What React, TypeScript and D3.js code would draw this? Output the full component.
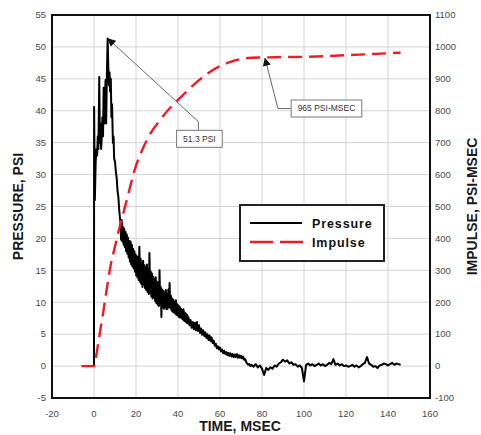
import * as d3 from "d3";
import { useEffect, useRef } from "react";

// time axis (ms) and the two value axes
const timeTicks = [-20, 0, 20, 40, 60, 80, 100, 120, 140, 160];
const pressureTicks = [-5, 0, 5, 10, 15, 20, 25, 30, 35, 40, 45, 50, 55];
const impulseTicks = [-100, 0, 100, 200, 300, 400, 500, 600, 700, 800, 900, 1000, 1100];

// pressure trace, first spikes read point by point [ms, psi]
const pressureEarly: [number, number][] = [
  [0, 0], [0.05, 40.6], [0.4, 26], [0.8, 32], [1.2, 34], [1.5, 33], [1.8, 36], [2.1, 34],
  [2.5, 45.3], [2.8, 35], [3.1, 38], [3.4, 34], [3.7, 36], [4.0, 39], [4.3, 36], [4.6, 43.6],
  [4.9, 38], [5.2, 42], [5.5, 44.8], [5.8, 38], [6.1, 45], [6.5, 51.3], [6.8, 47], [7.1, 44],
  [7.4, 46], [7.7, 43], [8.0, 45], [8.3, 39], [8.6, 41], [9.0, 35], [9.3, 36], [9.6, 32.5],
  [10.0, 32], [10.4, 30.5], [10.8, 29.5], [11.2, 27.5], [11.6, 26.5], [12.0, 24.5], [12.3, 23.4],
];

// noisy decay, sampled every 0.3 ms from 12.6 ms
const decayAStart = 12.6;
const decayAStep = 0.3;
const decayA = [
  22.5, 19.8, 22.9, 19.5, 21.8, 19.0, 21.5, 18.6, 21.0, 18.0, 20.6, 17.6, 20.1, 17.0, 19.6, 16.4,
  19.5, 15.9, 19.0, 15.6, 18.4, 15.3, 18.0, 14.8, 17.5, 14.2, 17.2, 13.9, 17.0, 13.5, 18.7, 13.2,
  16.8, 12.9, 16.2, 12.4, 16.5, 12.8, 15.8, 12.2, 15.5, 11.9, 15.9, 11.6, 15.2, 11.3, 17.7, 11.5,
  14.8, 10.9, 14.5, 10.6, 14.0, 10.8, 13.6, 10.2, 13.9, 9.9, 13.2, 9.6, 13.0, 9.4, 15.0, 9.8,
  12.4, 7.7, 12.0, 9.3, 11.8, 9.0, 11.5, 9.2, 11.9, 8.9, 11.2, 9.0, 12.0, 9.3, 13.0, 9.1,
  11.0, 8.7, 10.6, 8.5, 10.4, 8.4, 10.0, 8.2, 10.3, 8.0, 9.7, 7.9, 9.5, 7.7, 9.3, 7.6,
  9.0, 7.5, 8.8, 7.3, 8.9, 7.1, 8.4, 7.0, 8.2, 6.8, 8.0, 6.7,
];

// tail, every 0.5 ms from 45 ms
const decayBStart = 45;
const decayBStep = 0.5;
const decayB = [
  7.6, 6.4, 7.2, 6.0, 6.9, 5.8, 6.8, 5.6, 6.9, 5.5, 6.4, 5.2, 5.9, 4.9, 5.6, 4.7,
  5.3, 4.4, 5.0, 4.1, 4.8, 3.9, 4.5, 3.6, 4.0, 3.2, 3.5, 2.8, 3.1, 2.6, 2.9, 2.3,
  2.6, 2.0, 2.4, 1.9, 2.2, 1.7, 2.1, 1.6, 2.0, 1.5, 1.9, 1.4, 1.8, 1.4, 1.9, 1.3,
  1.7, 1.3, 1.6, 1.2, 1.5, 1.0, 1.1, 0.6, 0.4, 0.2, 0.3, 0.0,
];

// baseline, every 1 ms from 75 ms
const decayCStart = 75;
const decayCStep = 1;
const decayC = [
  0.2, -0.1, 0.3, -0.2, 0.1, -0.4, -1.4, -0.3, -0.6, -0.2, -0.4, 0.1, -0.1, 0.4, 0.6, 1.0,
  0.7, 0.9, 0.4, 0.6, 0.2, 0.3, -0.1, 0.1, -0.3, -2.4, 0.2, 0.4, 0.1, 0.3, 0.0, 0.2,
  0.4, 0.1, 0.3, 0.0, 0.2, 0.5, 0.3, 1.1, 0.2, 0.4, 0.1, 0.3, 0.0, 0.1, -0.1, 0.0,
  0.2, -0.1, 0.1, -0.2, 0.0, 0.3, 0.5, 1.4, 0.4, 0.2, -0.1, 0.0, -0.3, 0.1, 0.2, 0.4,
  0.3, 0.1, 0.3, 0.5, 0.2, 0.4, 0.3, 0.2,
];

// impulse curve
const impulseTime = [-6, 0, 1, 2, 3, 4, 5, 6, 8, 10, 12, 14, 16, 18, 20, 22.5, 25, 27.5, 30, 35, 40, 45, 50, 55, 60, 65, 70, 75, 80, 90, 100, 110, 120, 130, 140, 146];
const impulseValue = [0, 0, 30, 72, 113, 152, 195, 238, 318, 375, 430, 480, 530, 582, 628, 670, 706, 735, 758, 800, 834, 866, 896, 921, 940, 953, 962, 966, 967, 968, 969, 971, 974, 977, 980, 982];

const peakNote = { label: "51.3 PSI", t: 6.6, p: 51.3, elbowT: 49.7, elbowP: 38.3, boxT: 50.2, boxP: 35.6 };
const impulseNote = { label: "965 PSI-MSEC", t: 81.4, v: 965, elbowT: 87.6, boxT: 110.7, boxV: 807 };

const font = "'Liberation Sans', Arial, sans-serif";

export default function App() {
  const svgRef = useRef<SVGSVGElement>(null);
  const width = 481;
  const height = 435;
  const margin = { top: 15, right: 51, bottom: 37, left: 52 };

  useEffect(() => {
    const svg = d3.select(svgRef.current);
    svg.selectAll("*").remove();

    const x = d3.scaleLinear().domain([-20, 160]).range([margin.left, width - margin.right]);
    const yP = d3.scaleLinear().domain([-5, 55]).range([height - margin.bottom, margin.top]);
    const yI = d3.scaleLinear().domain([-100, 1100]).range([height - margin.bottom, margin.top]);
    const [x0, x1] = x.range();
    const [yb, yt] = yP.range();

    const defs = svg.append("defs");
    defs.append("marker")
      .attr("id", "arrow")
      .attr("viewBox", "0 0 10 10")
      .attr("refX", 9.5)
      .attr("refY", 5)
      .attr("markerWidth", 10)
      .attr("markerHeight", 8)
      .attr("markerUnits", "userSpaceOnUse")
      .attr("orient", "auto-start-reverse")
      .append("path")
      .attr("d", "M0,0 L10,5 L0,10 Z")
      .attr("fill", "#111");

    // grid
    const grid = svg.append("g").attr("stroke", "#d4d4d4").attr("stroke-width", 1);
    grid.selectAll("line.v").data(timeTicks.slice(1, -1)).enter().append("line")
      .attr("x1", (d) => x(d)).attr("x2", (d) => x(d)).attr("y1", yt).attr("y2", yb);
    grid.selectAll("line.h").data(pressureTicks.slice(1, -1)).enter().append("line")
      .attr("y1", (d) => yP(d)).attr("y2", (d) => yP(d)).attr("x1", x0).attr("x2", x1);

    // pressure trace
    const pressure: [number, number][] = [
      ...pressureEarly,
      ...decayA.map((v, i) => [decayAStart + i * decayAStep, v] as [number, number]),
      ...decayB.map((v, i) => [decayBStart + i * decayBStep, v] as [number, number]),
      ...decayC.map((v, i) => [decayCStart + i * decayCStep, v] as [number, number]),
    ];
    const pLine = d3.line<[number, number]>().x((d) => x(d[0])).y((d) => yP(d[1]));
    svg.append("path")
      .attr("d", pLine(pressure))
      .attr("fill", "none")
      .attr("stroke", "#000")
      .attr("stroke-width", 2)
      .attr("stroke-linejoin", "round");

    // impulse curve
    const impulse = impulseTime.map((t, i) => [t, impulseValue[i]] as [number, number]);
    const iLine = d3.line<[number, number]>().x((d) => x(d[0])).y((d) => yI(d[1])).curve(d3.curveMonotoneX);
    svg.append("path")
      .attr("d", iLine(impulse))
      .attr("fill", "none")
      .attr("stroke", "#f01c24")
      .attr("stroke-width", 2.4)
      .attr("stroke-dasharray", "14,7");

    // frame
    svg.append("rect")
      .attr("x", x0).attr("y", yt).attr("width", x1 - x0).attr("height", yb - yt)
      .attr("fill", "none").attr("stroke", "#111").attr("stroke-width", 2);

    // tick labels
    const tickStyle = (s: d3.Selection<SVGTextElement, number, SVGGElement, unknown>) =>
      s.attr("font-family", font).attr("font-size", 9.5).attr("fill", "#4a4a4a");
    const gl = svg.append("g");
    gl.selectAll("text").data(pressureTicks).enter().append("text")
      .attr("x", x0 - 6).attr("y", (d) => yP(d)).attr("dy", "0.35em")
      .attr("text-anchor", "end").text((d) => d).call(tickStyle);
    const gr = svg.append("g");
    gr.selectAll("text").data(impulseTicks).enter().append("text")
      .attr("x", x1 + 5).attr("y", (d) => yI(d)).attr("dy", "0.35em")
      .attr("text-anchor", "start").text((d) => d).call(tickStyle);
    const gb = svg.append("g");
    gb.selectAll("text").data(timeTicks).enter().append("text")
      .attr("x", (d) => x(d)).attr("y", yb + 19)
      .attr("text-anchor", "middle").text((d) => d).call(tickStyle);

    // axis titles
    const title = (t: string) =>
      svg.append("text").attr("font-family", font).attr("font-size", 14)
        .attr("font-weight", "bold").attr("fill", "#1a1a1a").attr("text-anchor", "middle").text(t);
    title("TIME, MSEC").attr("x", 240).attr("y", 431);
    title("PRESSURE, PSI").attr("transform", `translate(18,${(yt + yb) / 2}) rotate(-90)`).attr("dy", "0.36em");
    title("IMPULSE, PSI-MSEC").attr("transform", `translate(472,${(yt + yb) / 2}) rotate(-90)`).attr("dy", "0.36em");

    // annotations
    const noteBox = (label: string, cx: number, cy: number) => {
      const g = svg.append("g");
      const txt = g.append("text")
        .attr("x", cx).attr("y", cy).attr("dy", "0.35em").attr("text-anchor", "middle")
        .attr("font-family", font).attr("font-size", 8.5).attr("fill", "#333").text(label);
      const bb = (txt.node() as SVGTextElement).getBBox();
      const padX = 6.5, padY = 3.5;
      g.insert("rect", "text")
        .attr("x", bb.x - padX).attr("y", bb.y - padY)
        .attr("width", bb.width + 2 * padX).attr("height", bb.height + 2 * padY)
        .attr("fill", "#fff").attr("stroke", "#777").attr("stroke-width", 1);
    };

    const b1cx = x(peakNote.boxT), b1cy = yP(peakNote.boxP);
    const lead1 = d3.path();
    lead1.moveTo(x(peakNote.t), yP(peakNote.p));
    lead1.lineTo(x(peakNote.elbowT), yP(peakNote.elbowP));
    lead1.lineTo(x(peakNote.elbowT), b1cy - 9);
    svg.append("path").attr("d", lead1.toString()).attr("fill", "none")
      .attr("stroke", "#666").attr("stroke-width", 1).attr("marker-start", "url(#arrow)");
    noteBox(peakNote.label, b1cx, b1cy);

    const b2cx = x(impulseNote.boxT), b2cy = yI(impulseNote.boxV);
    const lead2 = d3.path();
    lead2.moveTo(x(impulseNote.t), yI(impulseNote.v));
    lead2.lineTo(x(impulseNote.elbowT), b2cy);
    lead2.lineTo(b2cx - 20, b2cy);
    svg.append("path").attr("d", lead2.toString()).attr("fill", "none")
      .attr("stroke", "#666").attr("stroke-width", 1).attr("marker-start", "url(#arrow)");
    noteBox(impulseNote.label, b2cx, b2cy);

    // legend
    const lg = svg.append("g").attr("transform", "translate(240,205)");
    lg.append("rect").attr("width", 144).attr("height", 56)
      .attr("fill", "#fff").attr("stroke", "#222").attr("stroke-width", 2);
    lg.append("line").attr("x1", 10).attr("x2", 62).attr("y1", 18).attr("y2", 18)
      .attr("stroke", "#000").attr("stroke-width", 2);
    lg.append("line").attr("x1", 10).attr("x2", 63).attr("y1", 37).attr("y2", 37)
      .attr("stroke", "#f01c24").attr("stroke-width", 2.4).attr("stroke-dasharray", "23,7");
    const legendText = [
      { label: "Pressure", y: 23 },
      { label: "Impulse", y: 42 },
    ];
    lg.selectAll("text").data(legendText).enter().append("text")
      .attr("x", 72).attr("y", (d) => d.y)
      .attr("font-family", font).attr("font-size", 12.5).attr("font-weight", "bold")
      .attr("letter-spacing", 0.9).attr("fill", "#111").text((d) => d.label);
  }, []);

  return (
    <svg
      ref={svgRef}
      width={width}
      height={height}
      style={{ position: "absolute", left: 0, top: 0, background: "#fff" }}
    />
  );
}
